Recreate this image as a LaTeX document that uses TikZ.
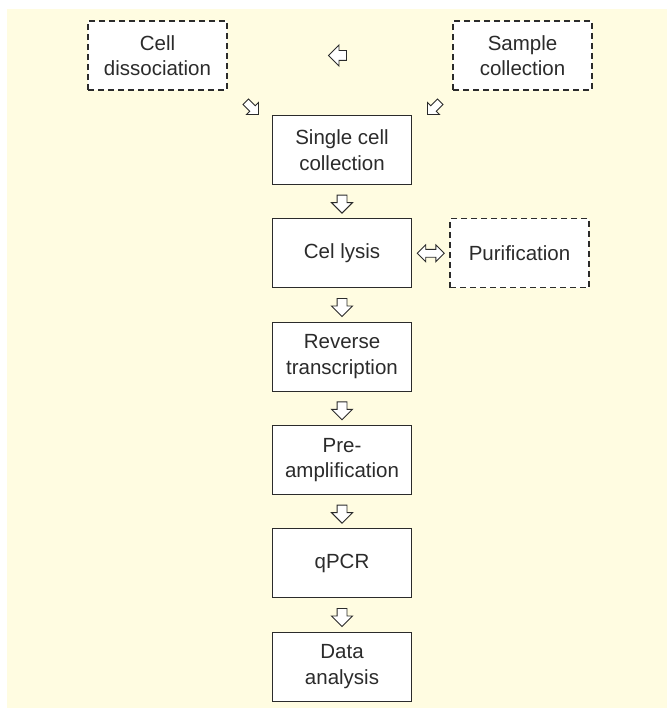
\documentclass[tikz,border=0pt]{standalone}
\usepackage{fontspec}
\setmainfont{Liberation Sans}
\usetikzlibrary{shapes.arrows,calc}
\definecolor{bgyellow}{HTML}{FFFCE1}
\definecolor{inkgray}{HTML}{2B2B2B}

\begin{document}
\begin{tikzpicture}[x=1pt,y=-1pt,
    box/.style={draw=inkgray,line width=1.1pt,fill=white,minimum width=139pt,minimum height=69pt,
      inner sep=0,align=center,text=inkgray,font=\fontsize{20.5}{25.5}\selectfont},
    optbox/.style={box,dash pattern=on 6pt off 4pt},
    blockarrow/.style={single arrow,draw=inkgray,line width=0.9pt,fill=white,
      inner xsep=0,inner ysep=4.5pt,minimum height=18pt,single arrow head extend=5.5pt},
    smallarrow/.style={blockarrow,inner ysep=3.5pt,minimum height=18pt,single arrow head extend=4.5pt},
    twoway/.style={double arrow,draw=inkgray,line width=0.9pt,fill=white,
      inner xsep=0,inner ysep=3.5pt,minimum height=27pt,double arrow head extend=4.5pt}]
        \useasboundingbox (0,0) rectangle (667,708);
        \fill[bgyellow] (7,9) rectangle (667,708);
        % optional steps
        \node[optbox] (dissoc) at (157.5,55.5) {Cell\\dissociation};
        \node[optbox] (sample) at (522.5,55.5) {Sample\\collection};
        % main pipeline
        \node[box] (scc) at (342,150) {Single cell\\collection};
        \node[box] (lysis) at (342,253.3) {Cel lysis};
        \node[optbox] (purif) at (519.5,253.3) {Purification};
        \node[box] (rt) at (342,356.7) {Reverse\\transcription};
        \node[box] (preamp) at (342,460) {Pre-\\amplification};
        \node[box] (qpcr) at (342,563.3) {qPCR};
        \node[box] (data) at (342,666.7) {Data\\analysis};
        % arrows
        \node[blockarrow,rotate=180] (a0) at ($(dissoc.east)!0.5!(sample.west)$) {};
        \node[smallarrow,rotate=-45] (a1) at ($(dissoc.south east)!0.5!(scc.north west)+(1,4)$) {};
        \node[smallarrow,rotate=225] (a2) at ($(sample.south west)!0.5!(scc.north east)+(3,4)$) {};
        \node[blockarrow,rotate=270] (a3) at ($(scc.south)!0.5!(lysis.north)$) {};
        \node[twoway] (a4) at ($(lysis.east)!0.5!(purif.west)$) {};
        \node[blockarrow,rotate=270] (a5) at ($(lysis.south)!0.5!(rt.north)$) {};
        \node[blockarrow,rotate=270] (a6) at ($(rt.south)!0.5!(preamp.north)$) {};
        \node[blockarrow,rotate=270] (a7) at ($(preamp.south)!0.5!(qpcr.north)$) {};
        \node[blockarrow,rotate=270] (a8) at ($(qpcr.south)!0.5!(data.north)$) {};
\end{tikzpicture}
\end{document}
